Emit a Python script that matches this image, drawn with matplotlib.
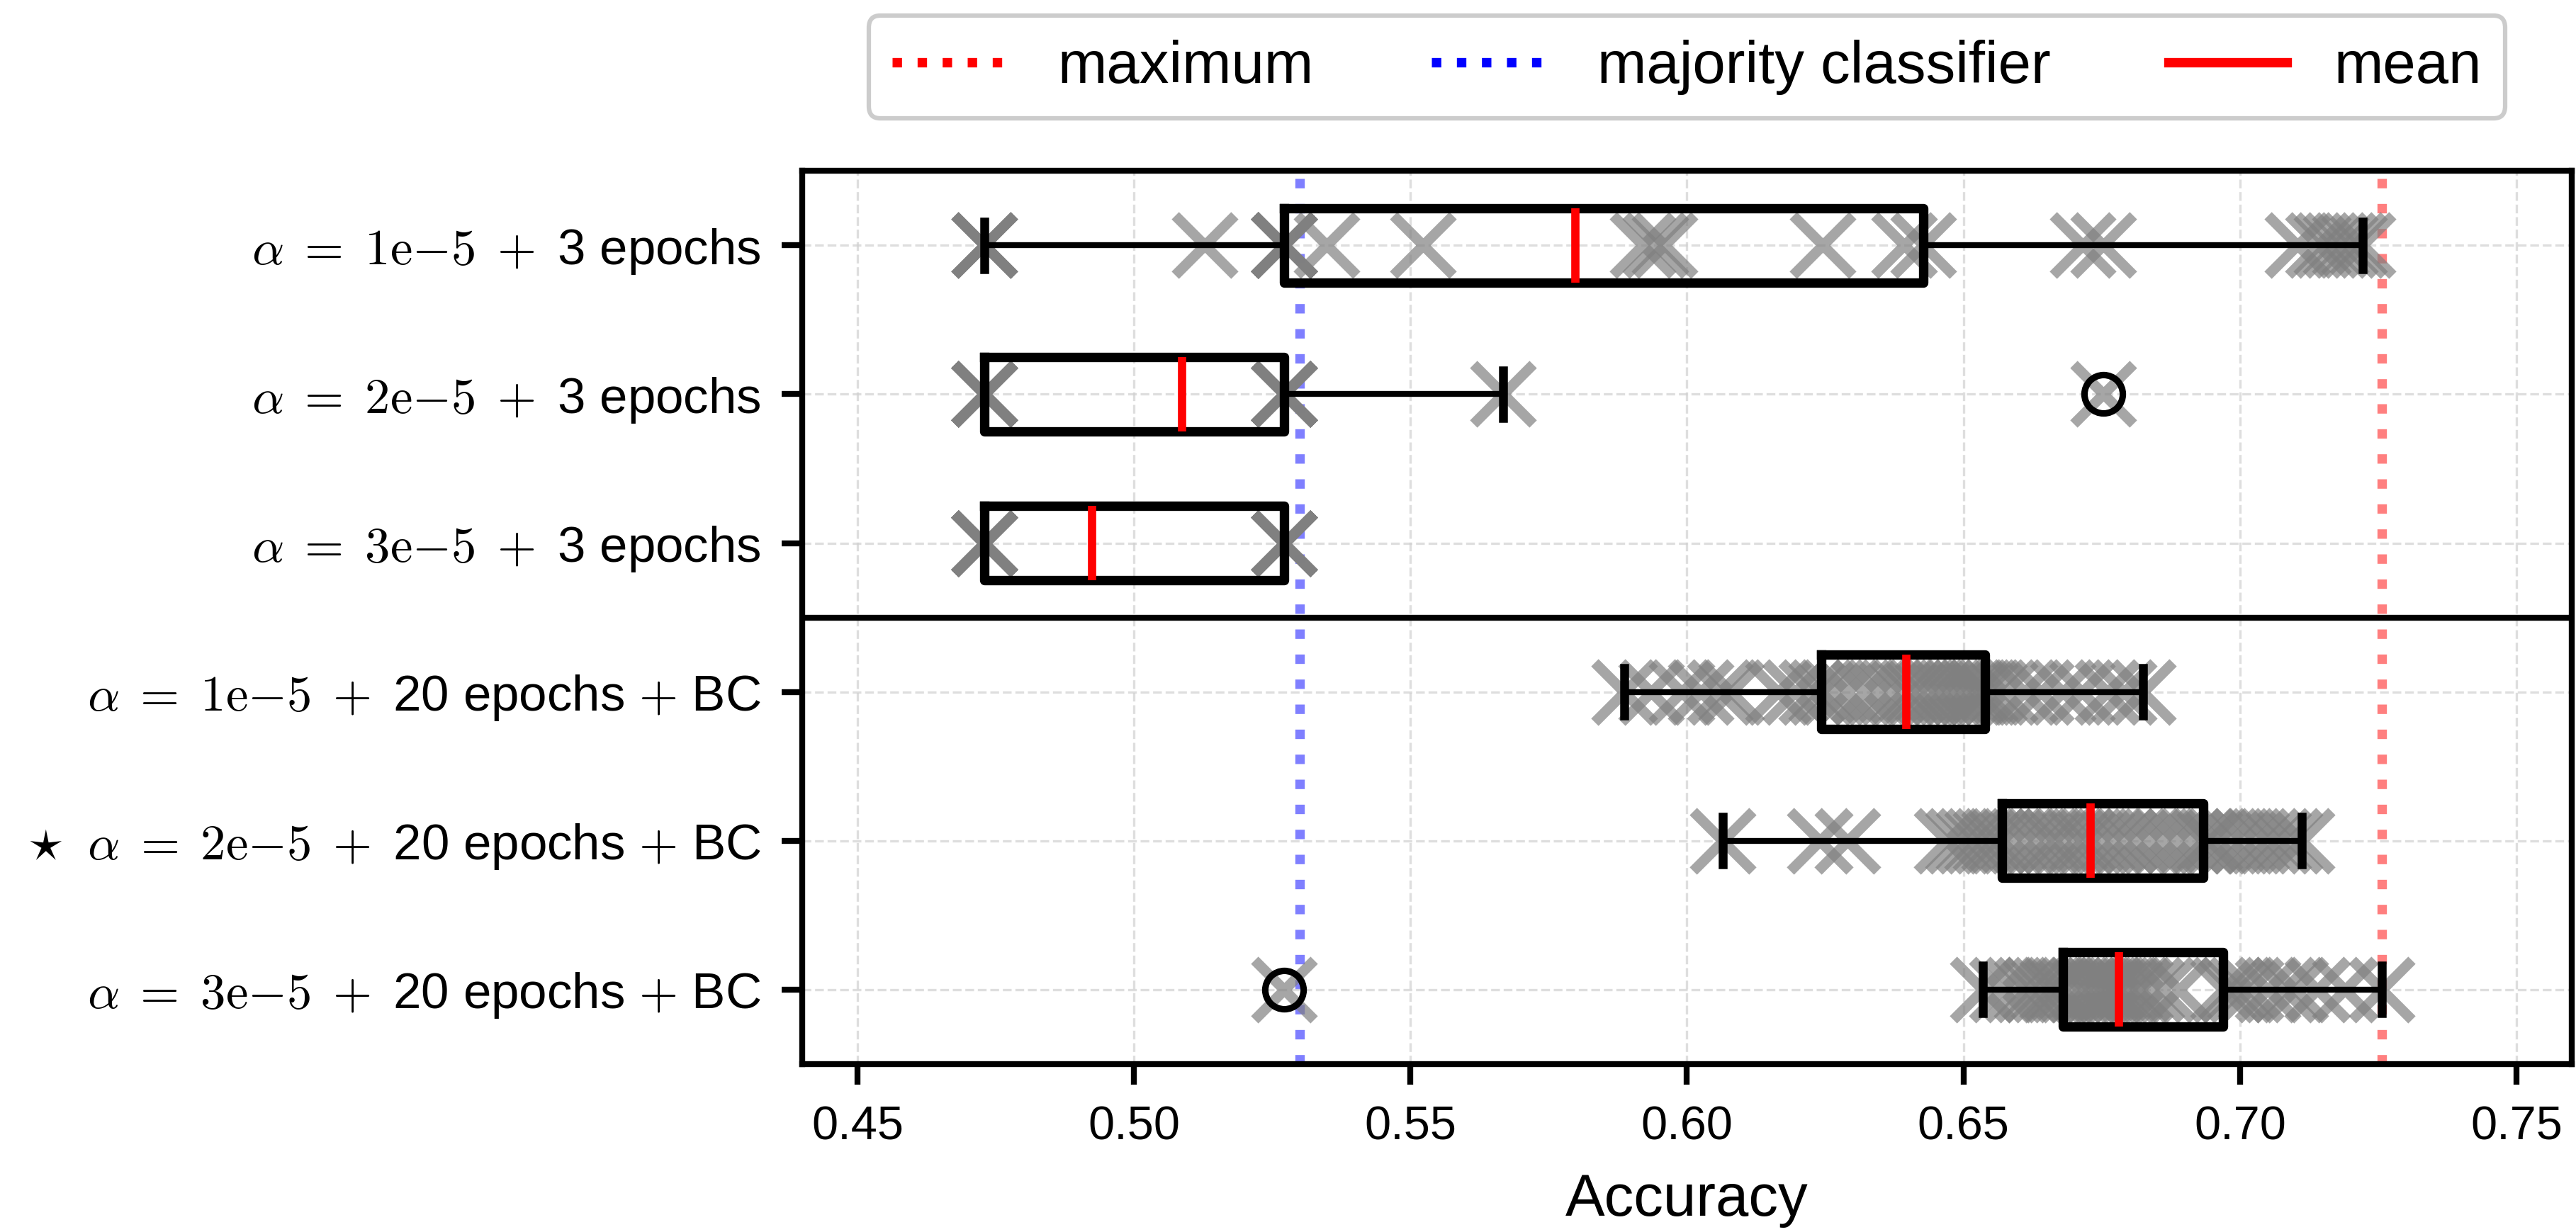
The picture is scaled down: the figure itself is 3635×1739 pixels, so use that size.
import matplotlib
matplotlib.use("Agg")
import matplotlib.pyplot as plt
from matplotlib.lines import Line2D

plt.rcParams["font.family"] = ["Liberation Sans", "DejaVu Sans"]
plt.rcParams["mathtext.fontset"] = "cm"

# accuracy of every run, one list per configuration (top to bottom)
acc_lr1_ep3 = ([0.4729] * 4 + [0.5128] + [0.5271] * 15
               + [0.5348, 0.5523, 0.5920, 0.5943, 0.5960, 0.6246, 0.6393, 0.6428]
               + [0.6716, 0.6753, 0.7104, 0.7141, 0.7157, 0.7173, 0.7190, 0.7206, 0.7222])
acc_lr2_ep3 = [0.4729] * 16 + [0.5271] * 19 + [0.5668, 0.6753]
acc_lr3_ep3 = [0.4729] * 23 + [0.5271] * 13
acc_lr1_ep20 = [0.5886, 0.5935, 0.5990, 0.6025, 0.6060, 0.6080, 0.6165, 0.6195, 0.6225,
                0.6243, 0.6265, 0.6290, 0.6320, 0.6345, 0.6370, 0.6390, 0.6405, 0.6420,
                0.6435, 0.6450, 0.6462, 0.6475, 0.6488, 0.6500, 0.6512, 0.6522, 0.6530,
                0.6539, 0.6555, 0.6575, 0.6610, 0.6640, 0.6680, 0.6715, 0.6760, 0.6790,
                0.6824]
acc_lr2_ep20 = [0.6065, 0.6240, 0.6290, 0.6470, 0.6490, 0.6510, 0.6525, 0.6540, 0.6555,
                0.6569, 0.6590, 0.6610, 0.6630, 0.6650, 0.6665, 0.6680, 0.6700, 0.6715,
                0.6730, 0.6750, 0.6770, 0.6790, 0.6810, 0.6835, 0.6860, 0.6885, 0.6910,
                0.6933, 0.6945, 0.6960, 0.6985, 0.7005, 0.7030, 0.7050, 0.7070, 0.7090,
                0.7112]
acc_lr3_ep20 = [0.5271, 0.6535, 0.6570, 0.6595, 0.6615, 0.6630, 0.6645, 0.6660, 0.6670,
                0.6680, 0.6695, 0.6710, 0.6720, 0.6730, 0.6740, 0.6750, 0.6758, 0.6765,
                0.6772, 0.6780, 0.6790, 0.6800, 0.6815, 0.6820, 0.6840, 0.6860, 0.6890,
                0.6969, 0.6985, 0.7000, 0.7020, 0.7050, 0.7080, 0.7100, 0.7140, 0.7190,
                0.7257]

runs = [acc_lr1_ep3, acc_lr2_ep3, acc_lr3_ep3, acc_lr1_ep20, acc_lr2_ep20, acc_lr3_ep20]
labels = [
    r"$\alpha\;=\;1\mathrm{e}{-}5\;+\;$3 epochs",
    r"$\alpha\;=\;2\mathrm{e}{-}5\;+\;$3 epochs",
    r"$\alpha\;=\;3\mathrm{e}{-}5\;+\;$3 epochs",
    r"$\alpha\;=\;1\mathrm{e}{-}5\;+\;$20 epochs $+$ BC",
    r"$\star\;\;\alpha\;=\;2\mathrm{e}{-}5\;+\;$20 epochs $+$ BC",
    r"$\alpha\;=\;3\mathrm{e}{-}5\;+\;$20 epochs $+$ BC",
]
majority_acc = 0.530
xticks = [0.45, 0.50, 0.55, 0.60, 0.65, 0.70, 0.75]

fig = plt.figure(figsize=(12.12, 5.797), dpi=300)
ax = fig.add_axes([0.3113, 0.1365, 0.9981 - 0.3113, 0.8611 - 0.1365])

positions = list(range(1, len(runs) + 1))
for pos, vals in zip(positions, runs):
    ax.plot(vals, [pos] * len(vals), "x", color="gray", alpha=0.7,
            markersize=20, markeredgewidth=3.5, zorder=1)

ax.boxplot(runs, positions=positions, orientation="horizontal", widths=0.5,
           capwidths=0.32, showmeans=True, meanline=True,
           boxprops=dict(color="black", linewidth=3.2),
           whiskerprops=dict(color="black", linewidth=2.0),
           capprops=dict(color="black", linewidth=3.0),
           medianprops=dict(linewidth=0),
           meanprops=dict(color="red", linestyle="-", linewidth=2.8),
           flierprops=dict(marker="o", markerfacecolor="none", markeredgecolor="black",
                           markersize=13, markeredgewidth=2.2))

best = max(max(v) for v in runs)
ax.axvline(best, color="red", linestyle=":", linewidth=3.2, alpha=0.5, zorder=0.5)
ax.axvline(majority_acc, color="blue", linestyle=":", linewidth=3.2, alpha=0.5, zorder=0.5)
ax.axhline(3.5, color="black", linewidth=2.0)

ax.set_xlim(0.44, 0.76)
ax.set_ylim(6.5, 0.5)
ax.set_xticks(xticks)
ax.set_yticks(positions)
ax.set_yticklabels(labels)
ax.tick_params(axis="both", length=7, width=2)
ax.tick_params(axis="x", labelsize=16, pad=7)
ax.tick_params(axis="y", labelsize=17, pad=7)
for s in ax.spines.values():
    s.set_linewidth(2.0)
ax.grid(True, color="#d0d0d0", linestyle="--", linewidth=0.8, alpha=0.7)
ax.set_axisbelow(True)
ax.set_xlabel("Accuracy", fontsize=20, labelpad=8)

handles = [
    Line2D([0], [0], color="red", linestyle=":", linewidth=3.2),
    Line2D([0], [0], color="blue", linestyle=":", linewidth=3.2),
    Line2D([0], [0], color="red", linestyle="-", linewidth=3.2),
]
leg = ax.legend(handles, ["maximum", "majority classifier", "mean"], loc="lower center",
                bbox_to_anchor=(0.5, 1.026), ncol=3, fontsize=20, framealpha=1,
                edgecolor="#cccccc")
leg.get_frame().set_linewidth(1.5)

fig.savefig("out.png", dpi=300)
